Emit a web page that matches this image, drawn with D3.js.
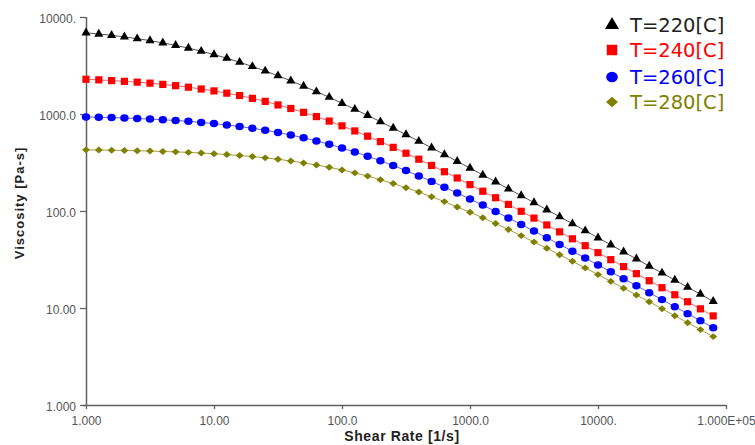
<!DOCTYPE html>
<html><head><meta charset="utf-8">
<script src="https://cdn.jsdelivr.net/npm/d3@7"></script>
<style>body{margin:0;background:#fff}svg{display:block}</style>
</head><body><svg id="c" width="755" height="445"></svg>
<script>
const shearRate = [1,1.259,1.585,1.995,2.512,3.162,3.981,5.012,6.310,7.943,
 10,12.59,15.85,19.95,25.12,31.62,39.81,50.12,63.10,79.43,
 100,125.9,158.5,199.5,251.2,316.2,398.1,501.2,631.0,794.3,
 1000,1259,1585,1995,2512,3162,3981,5012,6310,7943,
 10000,12589,15849,19953,25119,31623,39811,50119,63096,79433];
const visc220 = [6870,6680,6470,6240,5980,5710,5410,5100,4780,4440,4100,3760,3420,3090,2780,2480,2200,1940,1700,1490,1290,1120,968,834,716,613,525,448,382,325,277,235,200,169,144,122,103,87.4,74.0,62.6,53.0,44.8,37.9,32.1,27.1,23.0,19.4,16.4,13.9,11.7];
const visc240 = [2280,2250,2210,2170,2130,2080,2020,1960,1890,1810,1730,1640,1550,1450,1350,1240,1140,1040,940,845,755,669,591,519,453,394,342,295,254,219,187,160,137,117,99.3,84.5,71.8,61.0,51.7,43.9,37.2,31.5,26.7,22.6,19.1,16.2,13.7,11.6,9.80,8.29];
const visc260 = [932,926,918,909,899,887,873,857,840,819,796,771,743,713,679,645,607,568,528,487,446,406,367,330,294,261,230,202,176,153,133,115,98.7,84.8,72.6,62.1,53.0,45.2,38.5,32.7,27.8,23.6,20.0,17.0,14.4,12.2,10.3,8.75,7.41,6.27];
const visc280 = [427,425,423,421,418,415,411,407,402,396,389,382,373,364,353,341,328,313,298,282,265,247,229,210,192,174,157,140,125,110,97.2,85.1,74.2,64.4,55.7,48.0,41.3,35.4,30.3,25.9,22.1,18.8,16.0,13.6,11.6,9.82,8.33,7.06,5.99,5.07];
const seriesNames = ["T=220[C]","T=240[C]","T=260[C]","T=280[C]"];
const xTicks = [1,10,100,1000,10000,100000];
const xTickLabels = ["1.000","10.00","100.0","1000.0","10000.","1.000E+05"];
const yTicks = [1,10,100,1000,10000];
const yTickLabels = ["1.000","10.00","100.0","1000.0","10000."];

const series = [
 {name:seriesNames[0], values:visc220, color:"#000000", line:"#555555", shape:"tri"},
 {name:seriesNames[1], values:visc240, color:"#ff0000", line:"#ff6060", shape:"sq"},
 {name:seriesNames[2], values:visc260, color:"#0000ff", line:"#6060ff", shape:"circ"},
 {name:seriesNames[3], values:visc280, color:"#808000", line:"#a0a040", shape:"dia"}
];

const svg = d3.select("#c");
const L=86,R=726,T=17,B=405;
const x = d3.scaleLog().domain([1,100000]).range([L,R]);
const y = d3.scaleLog().domain([1,10000]).range([B,T]);
const axisCol="#606060", tickFont="'Liberation Sans', Arial, sans-serif";

// axes
const xa = svg.append("g").attr("transform",`translate(0,${B})`)
  .call(d3.axisBottom(x).tickValues(xTicks).tickFormat((d,i)=>xTickLabels[i]).tickSize(4).tickPadding(7));
const ya = svg.append("g").attr("transform",`translate(${L},0)`)
  .call(d3.axisLeft(y).tickValues(yTicks).tickFormat((d,i)=>yTickLabels[i]).tickSize(6).tickPadding(4));
[xa,ya].forEach(a=>{
  a.select(".domain").attr("stroke",axisCol).attr("stroke-width",1.5);
  a.selectAll(".tick line").attr("stroke",axisCol).attr("stroke-width",1.3);
  a.selectAll("text").attr("fill","#555").style("font-family",tickFont).style("font-size","12px");
});
xa.select(".domain").attr("d",`M${L-3},0.5H${R}`);
ya.select(".domain").attr("d",`M0.5,${B}V${T}`);
ya.selectAll(".tick text").attr("dy","0.42em");

// symbols
const sym = {tri:d3.symbolTriangle, sq:d3.symbolSquare, circ:d3.symbolCircle, dia:d3.symbolSquare};
const sizes = {tri:36, sq:52, circ:44, dia:24};
const extra = {tri:"", sq:"", circ:" scale(1.12,1)", dia:" scale(1.15,1) rotate(45)"};

series.forEach(s=>{
  const pts = shearRate.map((r,i)=>[r,s.values[i]]);
  svg.append("path").datum(pts)
    .attr("fill","none").attr("stroke",s.line).attr("stroke-width",1)
    .attr("d",d3.line().x(d=>x(d[0])).y(d=>y(d[1])));
  svg.append("g").selectAll("path").data(pts).join("path")
    .attr("transform",d=>`translate(${x(d[0])},${y(d[1])})${extra[s.shape]}`)
    .attr("d",d3.symbol().type(sym[s.shape]).size(sizes[s.shape]))
    .attr("fill",s.color);
});

// axis titles
svg.append("text").attr("x",402).attr("y",441).attr("text-anchor","middle")
  .style("font-family",tickFont).style("font-size","14px").style("font-weight","bold").style("letter-spacing","0.6px").attr("fill","#222")
  .text("Shear Rate [1/s]");
svg.append("text").attr("transform","translate(24,203) rotate(-90)").attr("text-anchor","middle")
  .style("font-family",tickFont).style("font-size","13px").style("font-weight","bold").style("letter-spacing","1px").attr("fill","#222")
  .text("Viscosity [Pa-s]");

// legend
const legY = [25,50,77,102];
const lg = svg.append("g");
series.forEach((s,i)=>{
  lg.append("path").attr("transform",`translate(612,${legY[i]})${extra[s.shape]}`)
    .attr("d",d3.symbol().type(sym[s.shape]).size({tri:85,sq:110,circ:85,dia:55}[s.shape]))
    .attr("fill",s.color);
  lg.append("text").attr("x",630).attr("y",legY[i]).attr("dy","0.36em")
    .style("font-family","'DejaVu Sans', sans-serif").style("font-size","19.5px")
    .attr("fill", i===0?"#222":s.color).text(s.name);
});
</script></body></html>
